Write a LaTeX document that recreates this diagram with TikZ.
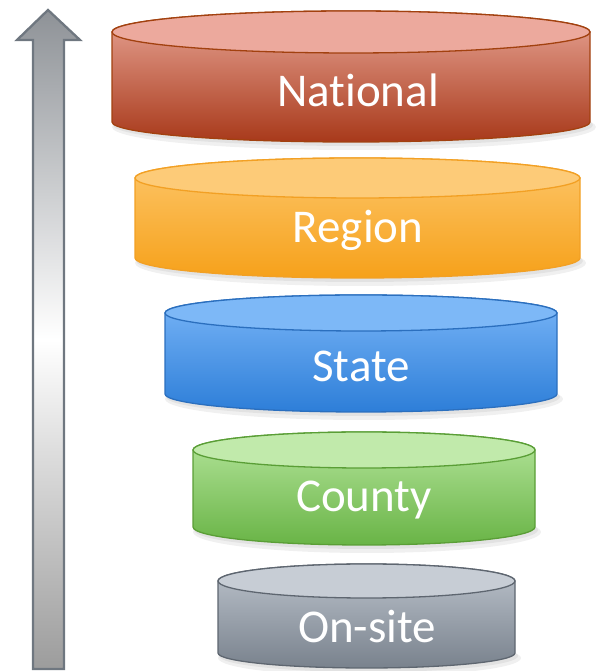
\documentclass[tikz,border=0pt]{standalone}
\usepackage{fontspec}
\setmainfont{Carlito}[Ligatures={NoCommon}]
\definecolor{natT}{HTML}{ECA99D}
\definecolor{natA}{HTML}{E8A596}
\definecolor{natB}{HTML}{A8391A}
\definecolor{natL}{HTML}{A2410F}
\definecolor{regT}{HTML}{FDCB78}
\definecolor{regA}{HTML}{FDC66A}
\definecolor{regB}{HTML}{F6A11A}
\definecolor{regL}{HTML}{F2A024}
\definecolor{staT}{HTML}{7DB8F7}
\definecolor{staA}{HTML}{7AB6F8}
\definecolor{staB}{HTML}{2D7ED8}
\definecolor{staL}{HTML}{2B6FBE}
\definecolor{couT}{HTML}{C1EAAB}
\definecolor{couA}{HTML}{B5E59C}
\definecolor{couB}{HTML}{69B446}
\definecolor{couL}{HTML}{5A9E36}
\definecolor{onsT}{HTML}{C7CDD5}
\definecolor{onsA}{HTML}{BCC3CC}
\definecolor{onsB}{HTML}{79828D}
\definecolor{onsL}{HTML}{5E6670}
\definecolor{arrL}{HTML}{6F7780}
\definecolor{arrG}{HTML}{8E9297}
\definecolor{arrB}{HTML}{9C9C9C}
\tikzset{
  label/.style={text=white, font=\fontsize{47}{52}\selectfont, inner sep=0pt, anchor=center},
}
\newcommand\drum[7]{%
  \fill[black,opacity=0.06] (#1+3,#5-5) ellipse[x radius=#2+3,y radius=#6+3];
  \fill[black,opacity=0.06] (#1+2,#5-3) ellipse[x radius=#2+1,y radius=#6+1];
  \shadedraw[top color=#7A, bottom color=#7B, draw=#7L, line width=1.3pt]
    (#1-#2,#3) -- (#1-#2,#5) arc[start angle=180,end angle=360,x radius=#2,y radius=#6]
    -- (#1+#2,#3) arc[start angle=0,end angle=180,x radius=#2,y radius=#4] -- cycle;
  \filldraw[fill=#7T, draw=#7L, line width=1.3pt] (#1,#3) ellipse[x radius=#2, y radius=#4];
}
\begin{document}
\begin{tikzpicture}[x=1pt,y=1pt]
\useasboundingbox (0,0) rectangle (597,671);
% arrow
\shadedraw[top color=arrG, bottom color=arrB, middle color=white, draw=arrL, line width=2.3pt, line join=miter]
  (33,2) -- (33,631) -- (17,631) -- (48,661) -- (80,631) -- (64,631) -- (64,2) -- cycle;
% cylinders
\drum{351}{239}{639}{21}{549}{20}{nat}
\drum{357.5}{222.5}{493}{20}{413}{20}{reg}
\drum{361}{196}{358}{18}{277}{18}{sta}
\drum{364}{171}{221}{18}{144}{18}{cou}
\drum{366.5}{148.5}{90}{17}{18}{15}{ons}
\node[label] (national) at (358,581) {National};
\node[label] (region) at (358,441) {Region};
\node[label] (state) at (361,305) {State};
\node[label] (county) at (364,171) {County};
\node[label] (onsite) at (367,44) {On-site};
\end{tikzpicture}
\end{document}
